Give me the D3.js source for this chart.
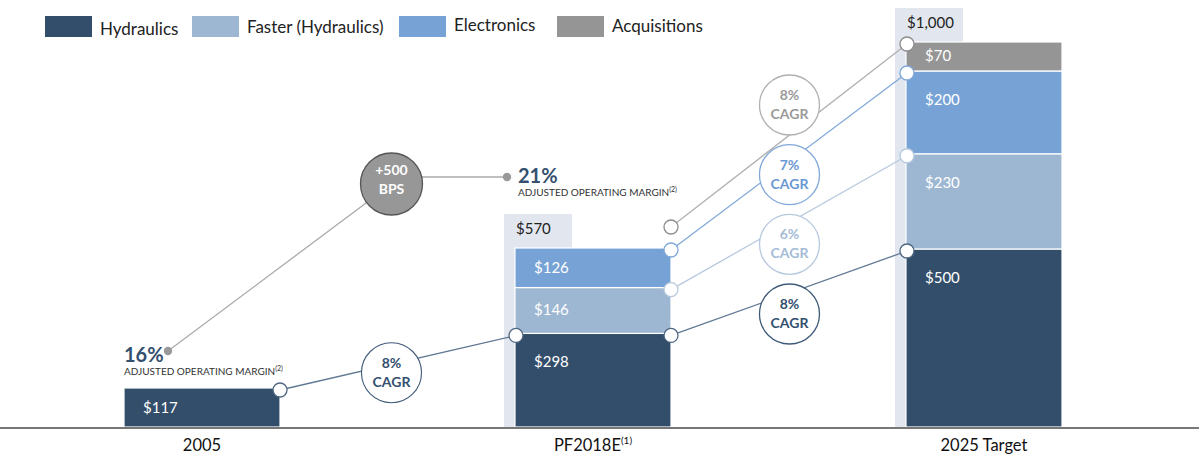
<!DOCTYPE html>
<html>
<head>
<meta charset="utf-8">
<script src="https://cdn.jsdelivr.net/npm/d3@7"></script>
<style>
  body { margin: 0; background: #fff; }
  svg { font-family: Lato, "Noto Sans", sans-serif; display: block; }
</style>
</head>
<body>
<div class="chart"></div>
<script>
// data
const categories = ["2005", "PF2018E", "2025 Target"];
const series = ["Hydraulics", "Faster (Hydraulics)", "Electronics", "Acquisitions"];
const hydraulics = [117, 298, 500];
const faster = [0, 146, 230];
const electronics = [0, 126, 200];
const acquisitions = [0, 0, 70];
const cagrFirst = "8%";                      // hydraulics 2005 -> PF2018E
const cagrSecond = ["8%", "6%", "7%", "8%"]; // each series PF2018E -> 2025
const margins = ["16%", "21%"];
const marginChange = "+500";

const colors = ["#334e6a", "#9db7d2", "#76a2d6", "#959595"];
const lineColors = ["#5f7893", "#b7c9de", "#80a8d9", "#b0b0b0"];
const textColors = ["#33506f", "#a5bcd6", "#6a98d3", "#9a9a9a"];

const W = 1199, H = 454;
const baseY = 427;
// each column is drawn to its own (non-proportional) scale, as in the slide
const colTop = [388, 248, 42];
const colFloor = [0, 0, 70];

const svg = d3.select(".chart").append("svg")
  .attr("width", W).attr("height", H);

const rows = categories.map((c, i) => ({
  cat: c,
  "Hydraulics": hydraulics[i],
  "Faster (Hydraulics)": faster[i],
  "Electronics": electronics[i],
  "Acquisitions": acquisitions[i]
}));
const totals = rows.map(r => d3.sum(series, s => r[s]));
const stacked = d3.stack().keys(series)(rows);

const x = d3.scaleBand().domain(categories).range([124, 1062])
  .paddingInner(0.601).paddingOuter(0);

const yCol = categories.map((c, i) => d3.scaleLinear()
  .domain([colFloor[i], totals[i]])
  .range([baseY, colTop[i]])
  .clamp(true));

// light backdrop behind the totals
svg.selectAll(".bg")
  .data([1, 2])
  .enter().append("rect")
  .attr("class", "bg")
  .attr("x", i => x(categories[i]) - 11)
  .attr("y", i => yCol[i](totals[i]) - 34)
  .attr("width", 68)
  .attr("height", i => baseY - yCol[i](totals[i]) + 34)
  .attr("fill", "#e2e7ef");

svg.selectAll(".tot")
  .data([1, 2])
  .enter().append("text")
  .attr("x", i => x(categories[i]) + 1)
  .attr("y", i => yCol[i](totals[i]) - 14)
  .attr("font-size", 15)
  .attr("fill", "#222")
  .text(i => "$" + d3.format(",")(totals[i]));

// stacked bars
const layer = svg.selectAll(".layer")
  .data(stacked)
  .enter().append("g")
  .attr("fill", (d, k) => colors[k]);

layer.selectAll("rect")
  .data(d => d.map((v, i) => ({ v, i })).filter(e => e.v[1] > e.v[0]))
  .enter().append("rect")
  .attr("x", e => x(categories[e.i]))
  .attr("y", e => yCol[e.i](e.v[1]))
  .attr("width", x.bandwidth())
  .attr("height", e => yCol[e.i](e.v[0]) - yCol[e.i](e.v[1]))
  .attr("stroke", "#fff")
  .attr("stroke-width", 1.2);

layer.selectAll("text")
  .data(d => d.map((v, i) => ({ v, i })).filter(e => e.v[1] > e.v[0]))
  .enter().append("text")
  .attr("x", e => x(categories[e.i]) + 19)
  .attr("y", e => {
    const t = yCol[e.i](e.v[1]), b = yCol[e.i](e.v[0]);
    return t + Math.min((b - t) / 2 + 5, 34);
  })
  .attr("font-size", 15)
  .attr("fill", "#fff")
  .text(e => "$" + (e.v[1] - e.v[0]));

// axis line
svg.append("line")
  .attr("x1", 0).attr("x2", W)
  .attr("y1", baseY + 1).attr("y2", baseY + 1)
  .attr("stroke", "#4a4a4a").attr("stroke-width", 1.5);

const axisText = svg.selectAll(".cat")
  .data(categories)
  .enter().append("text")
  .attr("x", d => x(d) + x.bandwidth() / 2)
  .attr("y", 451)
  .attr("text-anchor", "middle")
  .attr("font-size", 16.5)
  .attr("fill", "#111")
  .text(d => d);
axisText.filter(d => d === "PF2018E").append("tspan")
  .attr("font-size", 10).attr("dy", -7).text("(1)");

// connector points
function topPoint(i, k, side) {
  const v = stacked[k][i];
  const px = side === "r" ? x(categories[i]) + x.bandwidth() : x(categories[i]) + 1;
  const py = v[1] > v[0] ? yCol[i](v[1]) + 2 : yCol[i](totals[i]) - 21;
  return [px, py];
}

const r = 30;
const cagrX1 = (x(categories[0]) + x.bandwidth() + x(categories[1])) / 2 - 6;
const cagrX2 = (x(categories[1]) + x.bandwidth() + x(categories[2])) / 2 + 1;
const cagrY = d3.scalePoint().domain(series).range([314, 105]);

// hydraulics 2005 -> PF2018E
const a0 = topPoint(0, 0, "r"), a1 = topPoint(1, 0, "l");
svg.append("line")
  .attr("x1", a0[0]).attr("y1", a0[1]).attr("x2", a1[0]).attr("y2", a1[1])
  .attr("stroke", lineColors[0]).attr("stroke-width", 1.3);

// PF2018E -> 2025 lines
const links = series.map((s, k) => ({ k, a: topPoint(1, k, "r"), b: topPoint(2, k, "l") }));
svg.selectAll(".link")
  .data(links)
  .enter().append("line")
  .attr("x1", d => d.a[0]).attr("y1", d => d.a[1])
  .attr("x2", d => d.b[0]).attr("y2", d => d.b[1])
  .attr("stroke", d => lineColors[d.k]).attr("stroke-width", 1.3);

// margin annotation
const dot16 = [x(categories[0]) + 44, colTop[0] - 37];
const dot21 = [x(categories[1]) - 8, 177];
const bps = [cagrX1, 184];
svg.append("line")
  .attr("x1", dot16[0]).attr("y1", dot16[1]).attr("x2", bps[0]).attr("y2", bps[1])
  .attr("stroke", "#aaa").attr("stroke-width", 1.3);
svg.append("line")
  .attr("x1", bps[0]).attr("y1", dot21[1]).attr("x2", dot21[0]).attr("y2", dot21[1])
  .attr("stroke", "#aaa").attr("stroke-width", 1.3);
svg.selectAll(".mdot")
  .data([dot16, dot21])
  .enter().append("circle")
  .attr("cx", d => d[0]).attr("cy", d => d[1]).attr("r", 4.2)
  .attr("fill", "#999");

svg.append("circle")
  .attr("cx", bps[0]).attr("cy", bps[1]).attr("r", 31)
  .attr("fill", "#979797").attr("stroke", "#555").attr("stroke-width", 1.3);
svg.append("text")
  .attr("x", bps[0]).attr("y", bps[1] - 9)
  .attr("text-anchor", "middle").attr("font-size", 14).attr("font-weight", 700)
  .attr("fill", "#fff").text(marginChange);
svg.append("text")
  .attr("x", bps[0]).attr("y", bps[1] + 10)
  .attr("text-anchor", "middle").attr("font-size", 14).attr("font-weight", 700)
  .attr("fill", "#fff").text("BPS");

const mTxt = [
  { x: x(categories[0]), y: colTop[0] - 26, v: margins[0] },
  { x: x(categories[1]) + 3, y: 183, v: margins[1] }
];
svg.selectAll(".mbig")
  .data(mTxt)
  .enter().append("text")
  .attr("x", d => d.x).attr("y", d => d.y)
  .attr("font-size", 20).attr("font-weight", 700).attr("fill", "#33506f")
  .text(d => d.v);
const sub = svg.selectAll(".msub")
  .data(mTxt)
  .enter().append("text")
  .attr("x", d => d.x).attr("y", d => d.y + 13)
  .attr("font-size", 10).attr("fill", "#333")
  .text("ADJUSTED OPERATING MARGIN");
sub.append("tspan").attr("font-size", 7).attr("dy", -4).text("(2)");

// CAGR circles
function cagrCircle(cx, cy, label, k, strokeW) {
  svg.append("circle")
    .attr("cx", cx).attr("cy", cy).attr("r", r)
    .attr("fill", "#fff").attr("stroke", k === 0 ? "#3f5a79" : lineColors[k])
    .attr("stroke-width", strokeW);
  svg.append("text")
    .attr("x", cx).attr("y", cy - 5)
    .attr("text-anchor", "middle").attr("font-size", 14).attr("font-weight", 700)
    .attr("fill", textColors[k]).text(label);
  svg.append("text")
    .attr("x", cx).attr("y", cy + 14)
    .attr("text-anchor", "middle").attr("font-size", 14).attr("font-weight", 700)
    .attr("fill", textColors[k]).text("CAGR");
}
cagrCircle(cagrX1, (a0[1] + a1[1]) / 2 + 10, cagrFirst, 0, 1.1);
series.forEach((s, k) => cagrCircle(cagrX2, cagrY(s), cagrSecond[k], k, 1.3));

// small open circles at the line ends
const ends = [{ p: a0, k: 0 }, { p: a1, k: 0 }]
  .concat(links.map(d => ({ p: d.a, k: d.k })))
  .concat(links.map(d => ({ p: d.b, k: d.k })));
svg.selectAll(".end")
  .data(ends)
  .enter().append("circle")
  .attr("cx", d => d.p[0]).attr("cy", d => d.p[1]).attr("r", 7)
  .attr("fill", "#fff")
  .attr("stroke", d => d.k === 0 ? "#4d6682" : d.k === 3 ? "#8c8c8c" : lineColors[d.k])
  .attr("stroke-width", 1.3);

// legend
const legendX = [45, 192, 399, 557];
const legendTextY = [35, 33, 31, 32];
const leg = svg.selectAll(".leg")
  .data(series)
  .enter().append("g")
  .attr("transform", (d, k) => "translate(" + legendX[k] + ",16)");
leg.append("rect")
  .attr("width", 47).attr("height", 21)
  .attr("fill", (d, k) => colors[k]);
leg.append("text")
  .attr("x", 55).attr("y", (d, k) => legendTextY[k] - 16)
  .attr("font-size", 17).attr("fill", "#222")
  .text(d => d);
</script>
</body>
</html>
